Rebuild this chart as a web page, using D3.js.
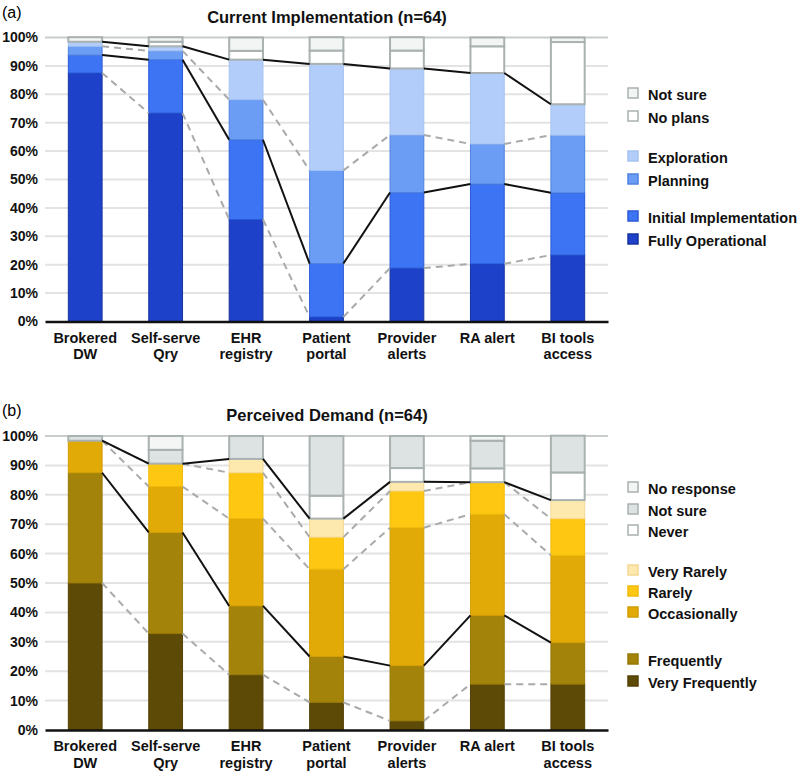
<!DOCTYPE html>
<html><head><meta charset="utf-8">
<script src="https://cdn.jsdelivr.net/npm/d3@7"></script>
<style>body{margin:0;background:#fff;} text{font-family:"Liberation Sans",Arial,Helvetica,sans-serif;}</style>
</head><body>
<svg id="c" width="798" height="771"></svg>
<script>
const categories = ["Brokered DW","Self-serve Qry","EHR registry","Patient portal","Provider alerts","RA alert","BI tools access"];
const categoryLines = [["Brokered","DW"],["Self-serve","Qry"],["EHR","registry"],["Patient","portal"],["Provider","alerts"],["RA alert"],["BI tools","access"]];
const yTicks = [0,10,20,30,40,50,60,70,80,90,100];

// Panel (a): percent of respondents (n=64), bottom to top
const implSeries = ["Fully Operational","Initial Implementation","Planning","Exploration","No plans","Not sure"];
const fullyOperational      = [87.5, 73.4, 35.9,  1.6, 18.8, 20.3, 23.4];
const initialImplementation = [ 6.3, 18.8, 28.1, 18.8, 26.6, 28.1, 21.9];
const planning              = [ 3.1,  3.1, 14.1, 32.8, 20.3, 14.1, 20.3];
const exploration           = [ 1.6,  1.6, 14.1, 37.5, 23.4, 25.0, 10.9];
const noPlans               = [ 0.0,  1.6,  3.1,  4.7,  6.3,  9.4, 21.9];
const notSureA              = [ 1.6,  1.6,  4.7,  4.7,  4.7,  3.1,  1.6];

// Panel (b): percent of respondents (n=64), bottom to top
const demandSeries = ["Very Frequently","Frequently","Occasionally","Rarely","Very Rarely","Never","Not sure","No response"];
const veryFrequently = [50.0, 32.8, 18.8,  9.4,  3.1, 15.6, 15.6];
const frequently     = [37.5, 34.4, 23.4, 15.6, 18.8, 23.4, 14.1];
const occasionally   = [10.9, 15.6, 29.7, 29.7, 46.9, 34.4, 29.7];
const rarely         = [ 0.0,  7.8, 15.6, 10.9, 12.5, 10.9, 12.5];
const veryRarely     = [ 0.0,  0.0,  4.7,  6.3,  3.1,  0.0,  6.3];
const never          = [ 0.0,  0.0,  0.0,  7.8,  4.7,  4.7,  9.4];
const notSureB       = [ 1.6,  4.7,  7.8, 20.3, 10.9,  9.4, 12.5];
const noResponse     = [ 0.0,  4.7,  0.0,  0.0,  0.0,  1.6,  0.0];

const panels = [
  {label:"(a)", title:"Current Implementation (n=64)", top:37.5, bottom:321.5, titleY:23, labelY:12,
   series: implSeries, values:[fullyOperational,initialImplementation,planning,exploration,noPlans,notSureA],
   fills:["#1e41c9","#3d74f4","#6b9df4","#b2cdf9","#ffffff","#f3f4f4"],
   strokes:["#16339f","#2a5ad8","#4f82e0","#a5c2f2","#a9b1b1","#a9b1b1"],
   lines:[{s:0,dash:true},{s:1,dash:false},{s:2,dash:true},{s:3,dash:false}],
   legendOrder:[5,4,3,2,1,0], legendY:[94,117,157,180,217,240]},
  {label:"(b)", title:"Perceived Demand (n=64)", top:436, bottom:730, titleY:421, labelY:410,
   series: demandSeries, values:[veryFrequently,frequently,occasionally,rarely,veryRarely,never,notSureB,noResponse],
   fills:["#5e4a07","#a4830a","#e2aa06","#fec712","#fde8ad","#ffffff","#dde3e3","#f4f5f5"],
   strokes:["#544205","#977808","#d39e05","#f1bb0c","#f3d894","#a9b1b1","#a9b1b1","#a9b1b1"],
   lines:[{s:0,dash:true},{s:1,dash:false},{s:2,dash:true},{s:3,dash:true},{s:4,dash:false}],
   legendOrder:[7,6,5,4,3,2,1,0], legendY:[488,510,531,571,592,613,660,682]}
];

const svg = d3.select("#c");
const x = d3.scaleBand().domain(categories).range([45,608]).paddingInner(0.58).paddingOuter(0.29);

panels.forEach(p => {
  const y = d3.scaleLinear().domain([0,100]).range([p.bottom,p.top]);
  const g = svg.append("g");
  g.append("text").attr("x",2).attr("y",p.labelY+6).attr("font-size",16).text(p.label);
  g.append("text").attr("x",327).attr("y",p.titleY).attr("text-anchor","middle")
    .attr("font-size",16.5).attr("font-weight","bold").attr("fill","#111").text(p.title);

  // gridlines
  g.selectAll("line.grid").data(yTicks.filter(t=>t>0)).join("line")
    .attr("x1",45).attr("x2",608).attr("y1",d=>y(d)).attr("y2",d=>y(d))
    .attr("stroke", d=>d===100?"#c9cccc":"#e3e3e3").attr("stroke-width",2);

  // y axis labels
  const ya = g.append("g").attr("transform","translate(39,0)")
    .call(d3.axisLeft(y).tickValues(yTicks).tickFormat(d=>d+"%").tickSize(0).tickPadding(1));
  ya.select(".domain").remove();
  ya.selectAll("text").attr("font-size",14).attr("font-weight","bold").attr("fill","#111")
    .attr("font-family","Liberation Sans, Arial, sans-serif");

  // stack
  const rows = categories.map((c,i)=>{const o={cat:c}; p.series.forEach((s,k)=>o[s]=p.values[k][i]); return o;});
  const stacked = d3.stack().keys(p.series)(rows);

  // bars
  stacked.forEach((layer,k)=>{
    g.append("g").selectAll("rect").data(layer).join("rect")
      .attr("x",d=>x(d.data.cat)).attr("width",x.bandwidth())
      .attr("y",d=>y(d[1])).attr("height",d=>Math.max(0,y(d[0])-y(d[1])))
      .attr("fill",p.fills[k]).attr("stroke",p.strokes[k])
      .attr("stroke-width", k>= (p.series.length - (p.series.length===6?2:3)) ? 2 : 1);
  });

  // connector lines
  p.lines.forEach(L=>{
    const layer = stacked[L.s];
    const segs = d3.pairs(layer);
    g.append("g").selectAll("line").data(segs).join("line")
      .attr("x1",d=>x(d[0].data.cat)+x.bandwidth()).attr("y1",d=>y(d[0][1]))
      .attr("x2",d=>x(d[1].data.cat)).attr("y2",d=>y(d[1][1]))
      .attr("stroke",L.dash?"#a9abab":"#111").attr("stroke-width",2)
      .attr("stroke-dasharray",L.dash?"7,5":null);
  });

  // baseline axis
  const xa = g.append("g").attr("transform",`translate(0,${p.bottom})`)
    .call(d3.axisBottom(x).tickSize(0).tickFormat(""));
  xa.select(".domain").attr("stroke","#111").attr("stroke-width",2.5);

  // category labels
  categories.forEach((c,i)=>{
    const t = g.append("text").attr("x",x(c)+x.bandwidth()/2).attr("y",p.bottom+21)
      .attr("text-anchor","middle").attr("font-size",14.5).attr("font-weight","bold").attr("fill","#111");
    categoryLines[i].forEach((ln,j)=>t.append("tspan").attr("x",x(c)+x.bandwidth()/2).attr("dy",j?16.5:0).text(ln));
  });

  // legend
  p.legendOrder.forEach((k,j)=>{
    const ly = p.legendY[j];
    g.append("rect").attr("x",628).attr("y",ly-6).attr("width",10).attr("height",10)
      .attr("fill",p.fills[k]).attr("stroke",p.strokes[k]).attr("stroke-width",1.5);
    g.append("text").attr("x",648).attr("y",ly+5.5).attr("font-size",14.5).attr("font-weight","bold")
      .attr("fill","#111").text(p.series[k]);
  });
});
</script>
</body></html>
